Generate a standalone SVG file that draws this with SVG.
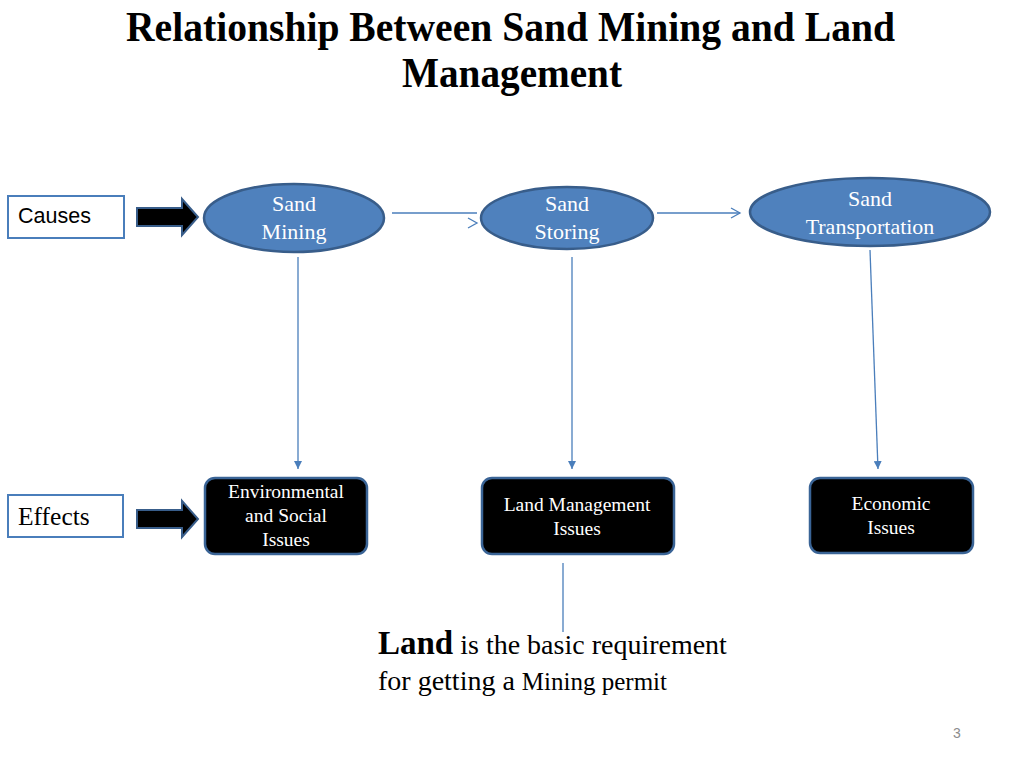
<svg xmlns="http://www.w3.org/2000/svg" width="1024" height="768" viewBox="0 0 1024 768">
<defs>
<style>
.title{font-family:"Liberation Serif",serif;font-weight:bold;font-size:42px;fill:#000}
.lbl{font-family:"Liberation Serif",serif;fill:#fff;text-anchor:middle}
.ell{fill:#4f81bd;stroke:#385d8a;stroke-width:2.5}
.blk{fill:#000;stroke:#3a6496;stroke-width:2.5}
.box{fill:#fff;stroke:#4a7ebb;stroke-width:2}
.bigarr{fill:#000;stroke:#385d8a;stroke-width:2}
.con{stroke:#4a7ebb;stroke-width:1.3;fill:none}
</style>
<marker id="tri" viewBox="0 0 10 10" refX="10" refY="5" markerWidth="8" markerHeight="8" markerUnits="userSpaceOnUse" orient="auto">
<path d="M0,0 L10,5 L0,10 Z" fill="#4a7ebb"/>
</marker>
</defs>
<rect width="1024" height="768" fill="#fff"/>
<text class="title" x="126" y="41" textLength="769" lengthAdjust="spacingAndGlyphs">Relationship Between Sand Mining and Land</text>
<text class="title" x="402" y="87" textLength="220" lengthAdjust="spacingAndGlyphs">Management</text>

<g id="causes">
<rect class="box" x="8" y="196" width="116" height="42"/>
<text x="18" y="223" font-family="Liberation Sans, sans-serif" font-size="21.5" fill="#000">Causes</text>
</g>
<g id="causes-arrow">
<path class="bigarr" d="M137,208 L182,208 L182,199 L198,217 L182,235 L182,226 L137,226 Z"/>
</g>
<g id="effects">
<rect class="box" x="8" y="495" width="115" height="42"/>
<text x="18" y="525" font-family="Liberation Serif, serif" font-size="25.5" fill="#000">Effects</text>
</g>
<g id="effects-arrow">
<path class="bigarr" d="M137,510 L182,510 L182,501 L198,519 L182,537 L182,528 L137,528 Z"/>
</g>

<g id="sand-mining">
<ellipse class="ell" cx="294" cy="218" rx="90" ry="34"/>
<text class="lbl" x="294" y="211" font-size="22">Sand</text>
<text class="lbl" x="294" y="239" font-size="22">Mining</text>
</g>
<g id="sand-storing">
<ellipse class="ell" cx="567" cy="218" rx="86" ry="31"/>
<text class="lbl" x="567" y="211" font-size="22">Sand</text>
<text class="lbl" x="567" y="239" font-size="22">Storing</text>
</g>
<g id="sand-transportation">
<ellipse class="ell" cx="870" cy="212" rx="120" ry="34"/>
<text class="lbl" x="870" y="206" font-size="22">Sand</text>
<text class="lbl" x="870" y="234" font-size="22">Transportation</text>
</g>

<g id="env-issues">
<rect class="blk" x="205" y="478" width="162" height="76" rx="10"/>
<text class="lbl" x="286" y="498" font-size="19.5">Environmental</text>
<text class="lbl" x="286" y="522" font-size="19.5">and Social</text>
<text class="lbl" x="286" y="546" font-size="19.5">Issues</text>
</g>
<g id="land-issues">
<rect class="blk" x="482" y="478" width="192" height="76" rx="10"/>
<text class="lbl" x="577" y="511" font-size="19.5">Land Management</text>
<text class="lbl" x="577" y="535" font-size="19.5">Issues</text>
</g>
<g id="econ-issues">
<rect class="blk" x="810" y="478" width="163" height="75" rx="10"/>
<text class="lbl" x="891" y="510" font-size="19.5">Economic</text>
<text class="lbl" x="891" y="534" font-size="19.5">Issues</text>
</g>

<g id="connectors">
<line class="con" x1="392" y1="213" x2="477" y2="213"/>
<polyline class="con" points="468,218 477,223 468,228"/>
<line class="con" x1="657" y1="213" x2="740" y2="213"/>
<polyline class="con" points="731,208 740,213 731,218"/>
<line class="con" x1="298" y1="257" x2="298" y2="469" marker-end="url(#tri)"/>
<line class="con" x1="572" y1="257" x2="572" y2="469" marker-end="url(#tri)"/>
<line class="con" x1="870" y1="250" x2="878" y2="469" marker-end="url(#tri)"/>
<line class="con" x1="563" y1="563" x2="563" y2="632"/>
</g>

<g id="note">
<text x="378" y="654" font-family="Liberation Serif, serif" font-size="28" fill="#000"><tspan font-weight="bold" font-size="33">Land</tspan> is the basic requirement</text>
<text x="378" y="690" font-family="Liberation Serif, serif" font-size="28" fill="#000">for getting a <tspan font-size="25">Mining permit</tspan></text>
</g>
<text x="957" y="738" font-family="Liberation Sans, sans-serif" font-size="14" fill="#8c8c8c" text-anchor="middle">3</text>
</svg>
